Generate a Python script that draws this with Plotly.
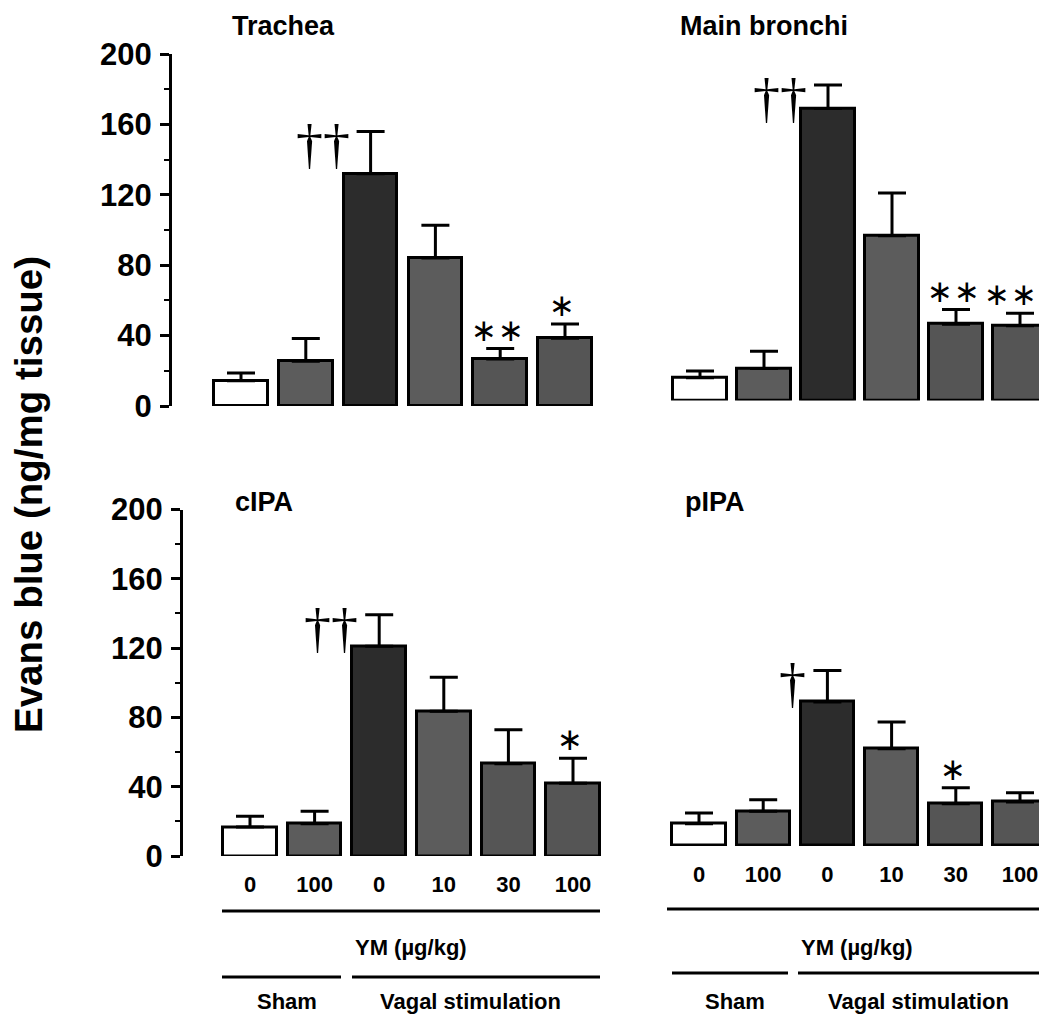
import plotly.graph_objects as go

W, H = 1039, 1020

# ---------------- data ----------------
doses = ["0", "100", "0", "10", "30", "100"]
groups = ["Sham", "Vagal stimulation"]

trachea_mean = [14.4, 25.4, 131.9, 84.1, 26.7, 38.5]
trachea_sem = [4.4, 12.9, 24.1, 18.6, 5.9, 8.1]
trachea_sig = ["", "", "††", "", "∗∗", "∗"]

bronchi_mean = [12.9, 18.2, 166.0, 93.6, 43.4, 42.5]
bronchi_sem = [3.8, 9.8, 13.3, 24.4, 8.3, 7.1]
bronchi_sig = ["", "", "††", "", "∗∗", "∗∗"]

cipa_mean = [16.7, 18.6, 121.0, 83.5, 53.3, 42.0]
cipa_sem = [6.2, 7.2, 18.3, 19.7, 19.6, 14.4]
cipa_sig = ["", "", "††", "", "", "∗"]

pipa_mean = [12.9, 20.0, 83.1, 56.2, 24.4, 25.4]
pipa_sem = [6.1, 6.7, 18.3, 15.4, 9.3, 5.4]
pipa_sig = ["", "", "†", "", "∗", ""]

y_ticks = [0, 40, 80, 120, 160, 200]

# ---------------- style ----------------
FONT = "Liberation Sans, Arial, Helvetica, sans-serif"
bar_colors = ["#ffffff", "#5c5c5c", "#2c2c2c", "#5c5c5c", "#555555", "#555555"]

panels = [
    dict(title="Trachea", mean=trachea_mean, sem=trachea_sem, sig=trachea_sig,
         c0=241, step=64.8, L=172, R=605, y0=406, y200=54, showy=True, showx=False,
         tx=230, ty=26),
    dict(title="Main bronchi", mean=bronchi_mean, sem=bronchi_sem, sig=bronchi_sig,
         c0=700, step=64.0, L=640, R=1039, y0=400.5, y200=48.7, showy=False, showx=False,
         tx=678, ty=26),
    dict(title="cIPA", mean=cipa_mean, sem=cipa_sem, sig=cipa_sig,
         c0=250, step=64.6, L=183, R=612, y0=856, y200=509.5, showy=True, showx=True,
         tx=233, ty=502),
    dict(title="pIPA", mean=pipa_mean, sem=pipa_sem, sig=pipa_sig,
         c0=699, step=64.2, L=640, R=1039, y0=846, y200=499.6, showy=False, showx=True,
         tx=683, ty=502),
]

STAR_SIZE = 31
STAR_GAP = 27                    # px between centres of neighbouring asterisks
STAR_HALF = 0.42 * STAR_SIZE     # approx. half width of one asterisk text box

fig = go.Figure()
annotations = []
xs = list(range(len(doses)))

for k, p in enumerate(panels):
    sfx = "" if k == 0 else str(k + 1)
    xa, ya = "x" + sfx, "y" + sfx
    fig.add_trace(go.Bar(
        x=xs, y=p["mean"], width=0.83,
        marker=dict(color=bar_colors, line=dict(color="black", width=3)),
        error_y=dict(type="data", symmetric=False, array=p["sem"],
                     arrayminus=[0] * len(xs), color="black", thickness=3, width=14),
        xaxis=xa, yaxis=ya, showlegend=False, hoverinfo="skip",
    ))
    xdom = [p["L"] / W, p["R"] / W]
    xrng = [(p["L"] - p["c0"]) / p["step"], (p["R"] - p["c0"]) / p["step"]]
    ydom = [1 - p["y0"] / H, 1 - p["y200"] / H]
    xkey = "xaxis" + sfx
    ykey = "yaxis" + sfx
    fig.layout[xkey] = dict(
        domain=xdom, range=xrng, anchor=ya, showgrid=False, zeroline=False,
        showline=False, ticks="", tickmode="array", tickvals=xs, ticktext=doses,
        showticklabels=p["showx"], ticklabelstandoff=13, automargin=False,
        tickfont=dict(family=FONT, size=22, color="black", weight="bold"),
        fixedrange=True,
    )
    fig.layout[ykey] = dict(
        domain=ydom, range=[0, 200], anchor=xa, showgrid=False, zeroline=False,
        visible=p["showy"], showline=True, linewidth=3, linecolor="black",
        ticks="outside", ticklen=9, tickwidth=3, tickcolor="black",
        tickmode="array", tickvals=y_ticks, automargin=False,
        minor=dict(ticks="outside", ticklen=5, tickwidth=2, tickcolor="black",
                   tickmode="linear", tick0=0, dtick=20),
        ticklabelstandoff=2,
        tickfont=dict(family=FONT, size=31, color="black", weight="bold"),
        fixedrange=True,
    )
    annotations.append(dict(
        text=p["title"], xref="paper", yref="paper", x=p["tx"] / W, y=1 - p["ty"] / H,
        xanchor="left", yanchor="middle", showarrow=False,
        font=dict(family=FONT, size=27, color="black", weight="bold")))
    for i, s in enumerate(p["sig"]):
        if not s:
            continue
        top = p["mean"][i] + p["sem"][i]
        if "†" in s:
            annotations.append(dict(
                text=s, xref=xa, yref=ya, x=i, y=top, xanchor="right", yanchor="middle",
                xshift=-19, yshift=-14, showarrow=False,
                font=dict(family="Liberation Serif, Times New Roman, serif", size=54, color="black")))
        else:
            n = len(s)
            offs = [-3 + (j - (n - 1) / 2) * STAR_GAP for j in range(n)]
            # keep a group of marks that would run past the right page edge inside the page
            bar_px = p["c0"] + p["step"] * i
            excess = bar_px + offs[-1] + STAR_HALF + 2 - W
            if excess > 0:
                offs = [o - excess for o in offs]
            for ch, dx in zip(s, offs):
                annotations.append(dict(
                    text=ch, xref=xa, yref=ya, x=i, y=top, xanchor="center", yanchor="middle",
                    xshift=dx, yshift=19, showarrow=False,
                    font=dict(family="DejaVu Sans, sans-serif", size=STAR_SIZE, color="black")))

annotations.append(dict(
    text="Evans blue (ng/mg tissue)", xref="paper", yref="paper", x=28 / W, y=1 - 495 / H,
    xanchor="center", yanchor="middle", textangle=-90, showarrow=False,
    font=dict(family=FONT, size=38.5, color="black", weight="bold")))

label_font = dict(family=FONT, size=22, color="black", weight="bold")
shapes = []
for (l1, r1), (sl, sr), (vl, vr), (ymx, symx, vgx), (yl1, yl2) in [
    ((222, 600), (222, 341), (352, 600), (411, 287, 470), (911, 977)),
    ((667, 1039), (672, 788), (798, 1039), (857, 735, 918), (909, 973)),
]:
    for x0, x1, yy in [(l1, r1, yl1), (sl, sr, yl2), (vl, vr, yl2)]:
        shapes.append(dict(type="line", xref="paper", yref="paper", x0=x0 / W, x1=x1 / W,
                           y0=1 - yy / H, y1=1 - yy / H, line=dict(color="black", width=3)))
    annotations.append(dict(text="YM (µg/kg)", xref="paper", yref="paper", x=ymx / W,
                            y=1 - 947 / H, xanchor="center", yanchor="middle",
                            showarrow=False, font=label_font))
    annotations.append(dict(text=groups[0], xref="paper", yref="paper", x=symx / W,
                            y=1 - 1001 / H, xanchor="center", yanchor="middle",
                            showarrow=False, font=label_font))
    annotations.append(dict(text=groups[1], xref="paper", yref="paper", x=vgx / W,
                            y=1 - 1001 / H, xanchor="center", yanchor="middle",
                            showarrow=False, font=label_font))

fig.update_layout(
    width=W, height=H, margin=dict(l=0, r=0, t=0, b=0, autoexpand=False),
    paper_bgcolor="white", plot_bgcolor="rgba(0,0,0,0)", showlegend=False,
    annotations=annotations, shapes=shapes, bargap=0,
)

fig.write_html("out.html", config={"displayModeBar": False})
